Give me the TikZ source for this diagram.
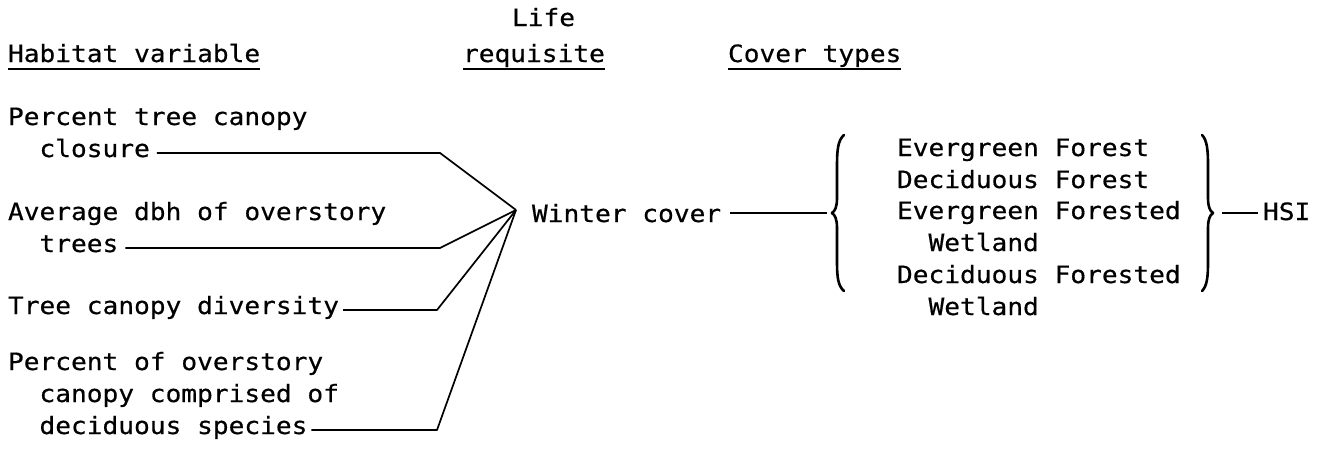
\documentclass[tikz,border=0pt]{standalone}
\usepackage{fontspec}
\newfontfamily\typefont[FakeStretch=1.1,FakeBold=0.5]{DejaVu Sans Mono}
\begin{document}
\begin{tikzpicture}[x=1pt,y=-1pt,
  txt/.style={anchor=base west, inner sep=0pt, outer sep=0pt, font=\typefont\fontsize{23.8}{32}\selectfont},
  conn/.style={line width=1.7pt, line join=round},
  uline/.style={line width=1.6pt},
  bracepath/.style={line width=2.6pt, line cap=round, line join=round}]
\useasboundingbox (0,0) rectangle (1337,450);
% headers
\node[txt] (hdrHV) at (8,62) {Habitat variable};
\node[txt] (hdrLife) at (512,26) {Life};
\node[txt] (hdrReq) at (463,62) {requisite};
\node[txt] (hdrCT) at (728,62) {Cover types};
\draw[uline] ([yshift=-7pt]hdrHV.base west) -- ([yshift=-7pt]hdrHV.base east);
\draw[uline] ([yshift=-7pt]hdrReq.base west) -- ([yshift=-7pt]hdrReq.base east);
\draw[uline] ([yshift=-7pt]hdrCT.base west) -- ([yshift=-7pt]hdrCT.base east);
% habitat variables
\node[txt] (v1a) at (8,125) {Percent tree canopy};
\node[txt] (v1b) at (39.5,157) {closure};
\node[txt] (v2a) at (8,220) {Average dbh of overstory};
\node[txt] (v2b) at (39.5,252) {trees};
\node[txt] (v3) at (8,314) {Tree canopy diversity};
\node[txt] (v4a) at (8,370) {Percent of overstory};
\node[txt] (v4b) at (39.5,402) {canopy comprised of};
\node[txt] (v4c) at (39.5,434) {deciduous species};
% life requisite
\coordinate (cv) at (516,210);
\node[txt] (wc) at (532,222) {Winter cover};
% connectors to winter cover
\coordinate (k1) at (440,153);
\coordinate (k2) at (440,248);
\coordinate (k3) at (437,310);
\coordinate (k4) at (437,430);
\draw[conn] ([xshift=7pt,yshift=4pt]v1b.base east) -- (k1) -- (cv);
\draw[conn] ([xshift=7pt,yshift=4pt]v2b.base east) -- (k2) -- (cv);
\draw[conn] ([xshift=4pt,yshift=4pt]v3.base east) -- (k3) -- (cv);
\draw[conn] ([xshift=4pt,yshift=4pt]v4c.base east) -- (k4) -- (cv);
% left brace
\coordinate (lb) at (832,213);
\draw[bracepath] (844,135) .. controls (838,140) and (837,150) .. (837,165) -- (837,198)
  .. controls (837,207) and (835,211) .. (lb)
  .. controls (835,215) and (837,219) .. (837,228) -- (837,262)
  .. controls (837,277) and (838,286) .. (844,291);
\draw[conn] ([xshift=9pt,yshift=9pt]wc.base east) -- ([xshift=-5pt]lb);
% cover types
\node[txt] (c1) at (897,156) {Evergreen Forest};
\node[txt] (c2) at (897,188) {Deciduous Forest};
\node[txt] (c3a) at (897,219) {Evergreen Forested};
\node[txt] (c3b) at (928.5,251) {Wetland};
\node[txt] (c4a) at (897,283) {Deciduous Forested};
\node[txt] (c4b) at (928.5,315) {Wetland};
% right brace
\coordinate (rb) at (1213,213);
\draw[bracepath] (1202,135) .. controls (1207,140) and (1208,150) .. (1208,165) -- (1208,198)
  .. controls (1208,207) and (1210,211) .. (rb)
  .. controls (1210,215) and (1208,219) .. (1208,228) -- (1208,262)
  .. controls (1208,277) and (1207,286) .. (1202,291);
\node[txt] (hsi) at (1263,220) {HSI};
\draw[conn] ([xshift=9pt]rb) -- ([xshift=-5pt,yshift=7pt]hsi.base west);
\end{tikzpicture}
\end{document}
